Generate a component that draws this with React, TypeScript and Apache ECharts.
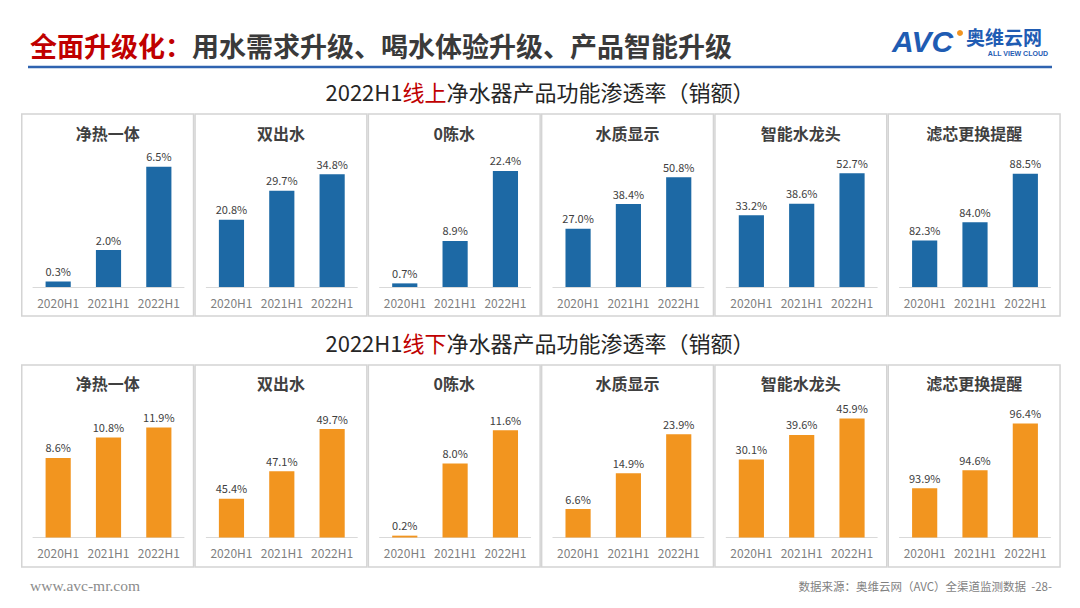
import React, { useEffect, useRef } from "react";
import * as echarts from "echarts";

const categories = ["2020H1", "2021H1", "2022H1"];
const panelTitles = ["净热一体", "双出水", "0陈水", "水质显示", "智能水龙头", "滤芯更换提醒"];
const onlineValues = [
  [0.3, 2.0, 6.5],
  [20.8, 29.7, 34.8],
  [0.7, 8.9, 22.4],
  [27.0, 38.4, 50.8],
  [33.2, 38.6, 52.7],
  [82.3, 84.0, 88.5],
];
const offlineValues = [
  [8.6, 10.8, 11.9],
  [45.4, 47.1, 49.7],
  [0.2, 8.0, 11.6],
  [6.6, 14.9, 23.9],
  [30.1, 39.6, 45.9],
  [93.9, 94.6, 96.4],
];
const onlineMin = [0, 0, 0, 0, 0, 78];
const onlineMax = [7, 40, 25, 60, 60, 90];
const offlineMin = [0, 43, 0, 0, 0, 92];
const offlineMax = [14, 51, 14, 30, 50, 97];

const BLUE = "#1d69a5";
const ORANGE = "#f2951f";
const CJK = "'Noto Sans CJK SC', 'Noto Sans', sans-serif";

export default function App() {
  const ref = useRef<HTMLDivElement>(null);
  useEffect(() => {
    if (!ref.current) return;
    const chart = echarts.init(ref.current, null, { renderer: "svg" });
    const panelW = 173.3;
    const panelX0 = 21;
    const rows = [
      { values: onlineValues, mins: onlineMin, maxs: onlineMax, color: BLUE, boxTop: 114, boxH: 202, gridTop: 157.5, titleY: 133 },
      { values: offlineValues, mins: offlineMin, maxs: offlineMax, color: ORANGE, boxTop: 365, boxH: 202, gridTop: 408, titleY: 383 },
    ];
    const grids: any[] = [];
    const xAxes: any[] = [];
    const yAxes: any[] = [];
    const series: any[] = [];
    const graphics: any[] = [];
    rows.forEach((row, r) => {
      for (let i = 0; i < 6; i++) {
        const idx = r * 6 + i;
        const px = panelX0 + i * panelW;
        graphics.push({
          type: "rect",
          shape: { x: px + 0.75, y: row.boxTop, width: panelW - 1.5, height: row.boxH },
          style: { fill: "#fff", stroke: "#d4d4d4", lineWidth: 1.5 },
          z: -1,
        });
        graphics.push({
          type: "text",
          x: px + panelW / 2,
          y: row.titleY,
          style: {
            text: panelTitles[i],
            font: `bold 16px ${CJK}`,
            fill: "#404040",
            align: "center",
            verticalAlign: "middle",
          },
        });
        grids.push({ left: px + 12, width: 151, top: row.gridTop, height: 129.5 });
        xAxes.push({
          type: "category",
          gridIndex: idx,
          data: categories,
          axisLine: { lineStyle: { color: "#d9d9d9", width: 1 } },
          axisTick: { show: false },
          axisLabel: { color: "#7f7f7f", fontSize: 12, margin: 9, fontFamily: CJK, interval: 0, hideOverlap: false },
        });
        yAxes.push({
          type: "value",
          gridIndex: idx,
          min: row.mins[i],
          max: row.maxs[i],
          show: false,
          splitLine: { show: false },
        });
        series.push({
          type: "bar",
          xAxisIndex: idx,
          yAxisIndex: idx,
          data: row.values[i],
          barWidth: "50%",
          itemStyle: { color: row.color },
          label: {
            show: true,
            position: "top",
            distance: 5,
            fontSize: 11,
            color: "#404040",
            fontFamily: CJK,
            formatter: (p: any) => `${Number(p.value).toFixed(1)}%`,
          },
        });
      }
    });

    // Header
    graphics.push({
      type: "text",
      x: 30,
      y: 45,
      style: {
        text: "{r|全面升级化：}{n|用水需求升级、喝水体验升级、产品智能升级}",
        verticalAlign: "middle",
        rich: {
          r: { font: `bold 27px ${CJK}`, fill: "#c00000" },
          n: { font: `bold 27px ${CJK}`, fill: "#3a3a3a" },
        },
      },
    });
    graphics.push({
      type: "line",
      shape: { x1: 28, y1: 67, x2: 1052, y2: 67 },
      style: { stroke: "#2f63b0", lineWidth: 2.5 },
    });
    // Logo
    graphics.push({
      type: "text",
      x: 892,
      y: 41,
      style: { text: "AVC", font: "bold italic 30px 'Liberation Sans', sans-serif", fill: "#1f5cb3", verticalAlign: "middle" },
    });
    graphics.push({ type: "circle", shape: { cx: 960, cy: 33, r: 3 }, style: { fill: "#f29420" } });
    graphics.push({
      type: "text",
      x: 966,
      y: 36,
      style: { text: "奥维云网", font: `bold 19px ${CJK}`, fill: "#1f5cb3", verticalAlign: "middle" },
    });
    graphics.push({
      type: "text",
      x: 1048,
      y: 53,
      style: { text: "ALL VIEW CLOUD", font: "bold 7px 'Liberation Sans', sans-serif", fill: "#1f5cb3", align: "right", verticalAlign: "middle" },
    });
    // Subtitles
    const subs = [
      { y: 91, word: "线上" },
      { y: 342, word: "线下" },
    ];
    subs.forEach((s) => {
      graphics.push({
        type: "text",
        x: 540,
        y: s.y,
        style: {
          text: `{n|2022H1}{r|${s.word}}{n|净水器产品功能渗透率（销额）}`,
          align: "center",
          verticalAlign: "middle",
          rich: {
            n: { font: `22px ${CJK}`, fill: "#262626" },
            r: { font: `22px ${CJK}`, fill: "#c00000" },
          },
        },
      });
    });
    // Footer
    graphics.push({
      type: "text",
      x: 30,
      y: 585,
      style: { text: "www.avc-mr.com", font: "15.5px 'Liberation Serif', serif", fill: "#8c8c8c", verticalAlign: "middle" },
    });
    graphics.push({
      type: "text",
      x: 1052,
      y: 586,
      style: {
        text: "数据来源：奥维云网（AVC）全渠道监测数据  -28-",
        font: `11.5px ${CJK}`,
        fill: "#7f7f7f",
        align: "right",
        verticalAlign: "middle",
      },
    });

    chart.setOption({
      animation: false,
      backgroundColor: "#ffffff",
      grid: grids,
      xAxis: xAxes,
      yAxis: yAxes,
      series,
      graphic: graphics,
    });
    return () => chart.dispose();
  }, []);
  return (
    <div
      ref={ref}
      style={{ position: "fixed", left: 0, top: 0, width: 1080, height: 608 }}
    />
  );
}
